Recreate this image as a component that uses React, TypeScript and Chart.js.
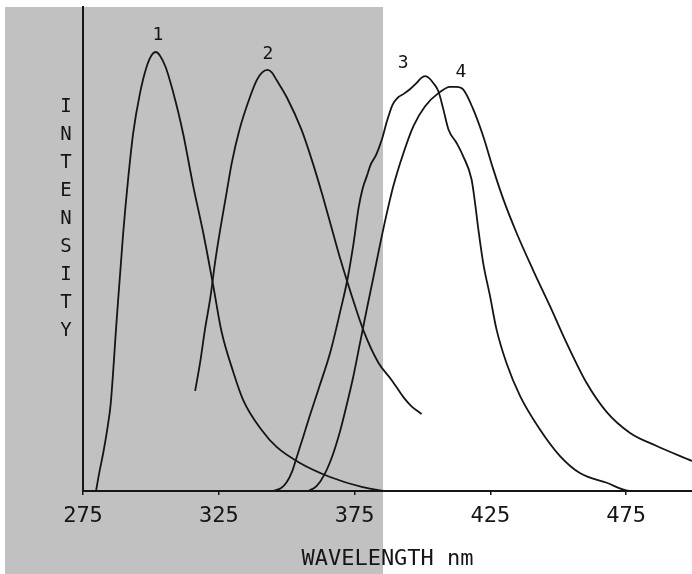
import React, { useEffect, useRef } from 'react';
import { Chart, registerables } from 'chart.js';

Chart.register(...registerables);

// ---- axes ----
const X_TICKS = [275, 325, 375, 425, 475];
const X_MIN = 275;
const X_MAX = 499.3;
const Y_MIN = 0;
const Y_MAX = 100;
const X_TITLE = 'WAVELENGTH nm';
const Y_TITLE = 'INTENSITY';
const SHADE_END_NM = 385.5;

// ---- curve labels ----
const CURVE_LABELS = ['1', '2', '3', '4'];
const LABEL_NM = [302.6, 343.1, 392.9, 414.2];
const LABEL_INT = [94.2, 90.3, 88.4, 86.4];

// ---- curve 1 ----
const C1_NM = [279.8, 281, 282.5, 284, 285.2, 287.4, 289.8, 291.7, 293.5, 296, 298.4, 300.2, 301.8, 303.3, 305.5, 308.3, 310.2, 312, 315.6, 319.3, 323, 326, 330.4, 334, 340.8, 346.3, 354.9, 366, 378, 386];
const C1_INT = [0, 3.8, 8, 13, 18, 35.3, 53.3, 64.9, 74, 82.2, 87.6, 90, 90.7, 90, 87.5, 82.2, 78, 73.5, 63, 53.3, 42.3, 33, 24.5, 18.8, 12.6, 9.1, 5.8, 2.9, 0.8, 0];

// ---- curve 2 ----
const C2_NM = [316.3, 318.1, 319.9, 322, 323.6, 325.5, 327.6, 329.8, 332.6, 336.5, 339, 341, 343, 344.5, 346.3, 350, 355.5, 359.5, 363.1, 366.5, 370, 374, 378.2, 383.8, 388.7, 393, 396, 399.7];
const C2_INT = [20.7, 26.4, 33.3, 40.3, 47.1, 53.9, 60.7, 67.8, 74.6, 81.4, 84.9, 86.5, 87, 86.5, 84.9, 81.4, 74.6, 68, 61.3, 54.5, 47.5, 40.3, 33.3, 26.5, 22.9, 19.4, 17.5, 15.9];

// ---- curve 3 ----
const C3_NM = [345, 348, 350, 352, 354, 356, 358.5, 362, 366, 369.7, 372.5, 374.6, 376.5, 378, 379.5, 381, 383, 385, 387, 389, 391, 393, 395.4, 397.9, 399.5, 401, 402.5, 404, 405.9, 407.7, 409.6, 412.6, 415, 418.1, 419.4, 420.6, 422.4, 424.9, 427.3, 431, 436, 443.3, 450.7, 458, 467.9, 476.5, 481];
const C3_INT = [0, 0.6, 1.8, 4, 7.5, 11, 15.5, 21.5, 28.5, 37, 44, 51, 58.5, 62.5, 65, 67.5, 69.5, 72.5, 76.5, 79.8, 81.3, 82, 83, 84.3, 85.3, 85.7, 85.3, 84.3, 82.6, 78.9, 74.7, 71.9, 69.2, 64.4, 59.5, 54.1, 47.1, 40.3, 33.4, 26.4, 19.6, 12.7, 7.2, 3.7, 1.7, 0, 0];

// ---- curve 4 ----
const C4_NM = [358, 361, 364, 367, 369.7, 372, 374.5, 377, 379.5, 381.9, 385.6, 389.3, 393, 396.7, 401, 405.9, 410.2, 412.5, 415, 418.7, 422.4, 426.1, 429.8, 434.7, 440.8, 447, 453.1, 460.5, 467.9, 476.5, 486.3, 499.3];
const C4_INT = [0, 1, 3.5, 7.5, 12.4, 17.5, 23.5, 30.5, 37.5, 44, 54.1, 63, 69.8, 75.4, 79.5, 82.2, 83.5, 83.5, 83, 78.9, 73.3, 66.5, 60.3, 53.3, 45.6, 38.2, 30.6, 22.3, 16.3, 12, 9.3, 6.2];

const FONT = "'DejaVu Sans Mono', monospace";
const INK = '#151515';

const toPoints = (xs: number[], ys: number[]) => xs.map((x, i) => ({ x, y: ys[i] }));

const shadePlugin = {
  id: 'shade',
  beforeDraw(chart: any) {
    const { ctx, chartArea, scales } = chart;
    const xEnd = scales.x.getPixelForValue(SHADE_END_NM);
    ctx.save();
    ctx.fillStyle = '#c1c1c1';
    ctx.fillRect(5, chartArea.top, xEnd - 5, chart.height - chartArea.top);
    ctx.restore();
  },
};

const textPlugin = {
  id: 'texts',
  afterDatasetsDraw(chart: any) {
    const { ctx, chartArea, scales } = chart;
    ctx.save();
    ctx.fillStyle = INK;
    ctx.textAlign = 'center';
    ctx.textBaseline = 'middle';
    ctx.font = `18px ${FONT}`;
    CURVE_LABELS.forEach((t, i) => {
      ctx.fillText(t, scales.x.getPixelForValue(LABEL_NM[i]), scales.y.getPixelForValue(LABEL_INT[i]));
    });
    ctx.font = `19px ${FONT}`;
    const letters = Y_TITLE.split('');
    const cx = chartArea.left - 17;
    const startY = chartArea.top + 100;
    letters.forEach((l, i) => {
      ctx.fillText(l, cx, startY + i * 28);
    });
    ctx.restore();
  },
};

export default function App() {
  const ref = useRef<HTMLCanvasElement | null>(null);
  useEffect(() => {
    if (!ref.current) return;
    const mk = (xs: number[], ys: number[], label: string) => ({
      label,
      data: toPoints(xs, ys),
      borderColor: INK,
      borderWidth: 1.8,
      pointRadius: 0,
      fill: false,
      cubicInterpolationMode: 'monotone' as const,
    });
    const chart = new Chart(ref.current, {
      type: 'line',
      data: {
        datasets: [
          mk(C1_NM, C1_INT, '1'),
          mk(C2_NM, C2_INT, '2'),
          mk(C3_NM, C3_INT, '3'),
          mk(C4_NM, C4_INT, '4'),
        ],
      },
      options: {
        animation: false,
        responsive: true,
        maintainAspectRatio: false,
        layout: { padding: { top: 7, left: 0, right: 0, bottom: 0 } },
        plugins: { legend: { display: false }, tooltip: { enabled: false } },
        scales: {
          x: {
            type: 'linear',
            min: X_MIN,
            max: X_MAX,
            afterBuildTicks: (scale: any) => {
              scale.ticks = X_TICKS.map((v) => ({ value: v }));
            },
            afterFit: (scale: any) => {
              scale.height = 83;
            },
            grid: { display: true, drawOnChartArea: false, drawTicks: true, tickLength: 4, color: INK, lineWidth: 1.5 },
            border: { display: true, color: INK, width: 2 },
            ticks: {
              color: INK,
              font: { family: FONT, size: 22 },
              padding: 8,
              maxRotation: 0,
              autoSkip: false,
            },
            title: {
              display: true,
              text: X_TITLE,
              color: INK,
              font: { family: FONT, size: 22 },
              padding: { top: 0, bottom: 2 },
            },
          },
          y: {
            type: 'linear',
            min: Y_MIN,
            max: Y_MAX,
            afterFit: (scale: any) => {
              scale.width = 83;
            },
            grid: { display: false },
            border: { display: true, color: INK, width: 2 },
            ticks: { display: false },
          },
        },
      },
      plugins: [shadePlugin, textPlugin],
    });
    return () => chart.destroy();
  }, []);
  return (
    <div style={{ position: 'fixed', left: 0, top: 0, width: 692, height: 574, background: '#fff' }}>
      <canvas ref={ref} />
    </div>
  );
}
